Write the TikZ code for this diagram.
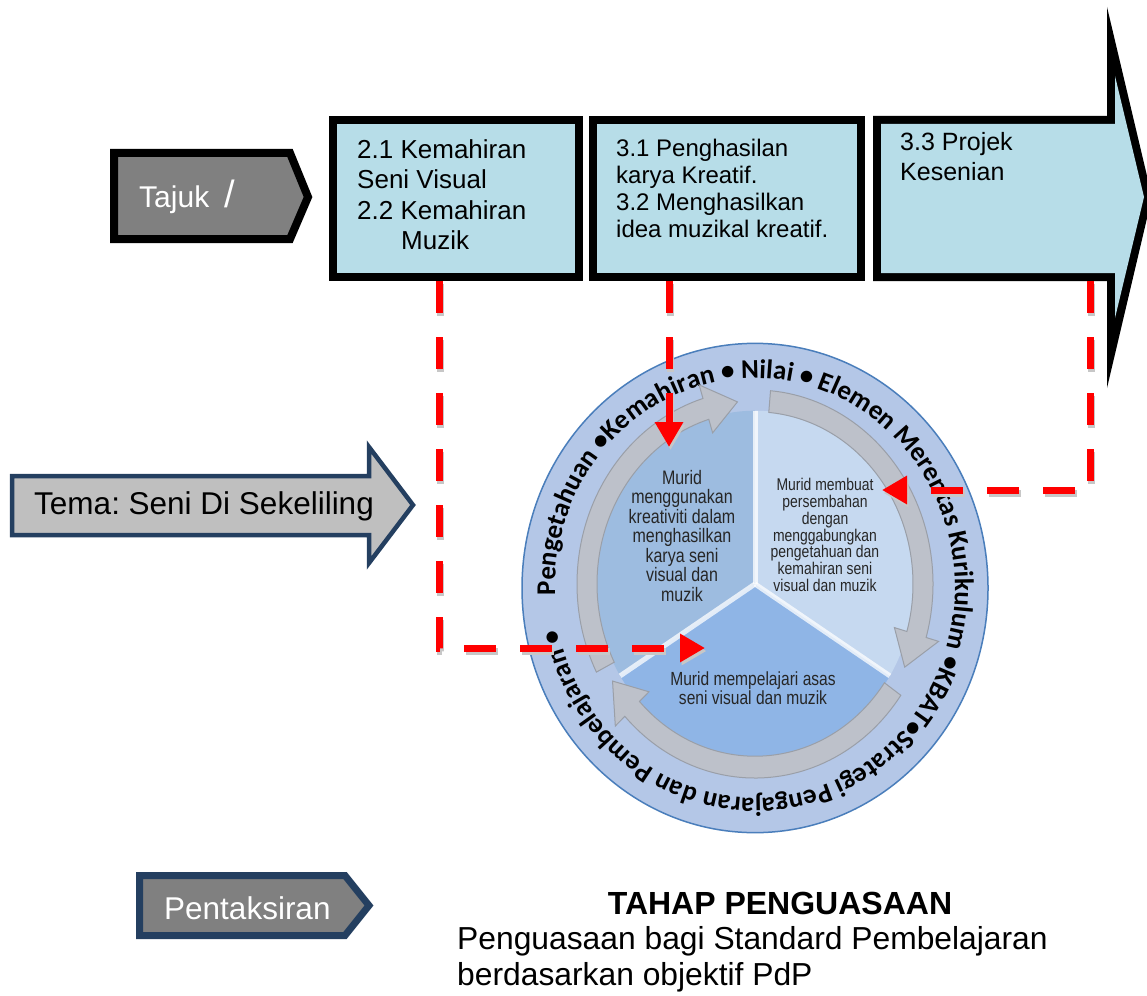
\documentclass[tikz,border=0pt]{standalone}
\usepackage{fontspec}
\setmainfont{Liberation Sans}
\newfontfamily\ringfont{Carlito}
\newfontfamily\narrowfont[FakeStretch=0.82]{Liberation Sans}
\usepackage{tikz}
\usetikzlibrary{positioning}
\usetikzlibrary{arrows.meta}
\usetikzlibrary{decorations.text}
\definecolor{boxblue}{HTML}{B7DDE8}
\definecolor{navy}{HTML}{243F60}
\definecolor{ringblue}{HTML}{B4C7E7}
\definecolor{ringedge}{HTML}{4A7EBB}
\definecolor{secleft}{HTML}{9DBCE0}
\definecolor{secright}{HTML}{C6D9F0}
\definecolor{secbottom}{HTML}{8FB5E6}
\definecolor{ringgray}{HTML}{BDC1CA}
\definecolor{ringgrayedge}{HTML}{9A9FA8}
\definecolor{darktext}{HTML}{262626}
\tikzset{
  topbox/.style={draw=black,line width=8pt,fill=boxblue,minimum height=157pt,inner sep=0pt},
  boxtext/.style={anchor=north west,align=left,inner sep=0pt},
  redconn/.style={draw=red,line width=7pt,dash pattern=on 32pt off 24pt,-{Triangle[length=25pt,width=27pt]}},
  conshadow/.style={draw=black!22,line width=7pt,dash pattern=on 32pt off 24pt,-{Triangle[length=25pt,width=27pt]},transform canvas={shift={(1.5pt,-3pt)}}},
  sectext/.style={align=center,text=darktext,inner sep=0pt},
  ringarrow/.style={fill=ringgray,draw=ringgrayedge,line width=1pt},
  sidelabel/.style={anchor=base west,inner sep=0pt}
}
\frenchspacing
\begin{document}
\begin{tikzpicture}[x=1pt,y=-1pt]
\useasboundingbox (0,0) rectangle (1147,995);

% lingkaran
\begin{scope}[shift={(755,588)},x=1pt,y=1.05pt]
\draw[fill=ringblue,draw=ringedge,line width=1.5pt] (0,0) circle[radius=233];
\path[decorate,decoration={text along path,
  text={|\ringfont\bfseries\fontsize{27}{27}\selectfont|Pengetahuan •Kemahiran • Nilai • Elemen Merentas Kurikulum •KBAT•Strategi Pengajaran dan Pembelajaran •}}]
  (182:200) arc[start angle=182,end angle=-174,radius=200];
\end{scope}
\begin{scope}[shift={(755,584)},x=1pt,y=1.09pt]
\fill[secleft] (0,0) -- (90:159) arc[start angle=90,end angle=212,radius=159] -- cycle;
\fill[secbottom] (0,0) -- (212:159) arc[start angle=212,end angle=328,radius=159] -- cycle;
\fill[secright] (0,0) -- (328:159) arc[start angle=328,end angle=450,radius=159] -- cycle;
\foreach \a in {90,212,328}
  \draw[white,line width=5pt,opacity=.75] (0,0) -- (\a:159);
\foreach \ta/\tb in {207/96,85/-27,-35/-148}{
  \pgfmathsetmacro\tc{\tb+11}
  \draw[ringarrow] (\ta:178) arc[start angle=\ta,end angle=\tc,radius=178]
    -- (\tc:191) -- (\tb:168) -- (\tc:145) -- (\tc:158)
    arc[start angle=\tc,end angle=\ta,radius=158] -- cycle;
}
\end{scope}

\node[sectext,font=\narrowfont\fontsize{19.5}{19.5}\selectfont] (kreatif) at (682,536)
  {Murid\\menggunakan\\kreativiti dalam\\menghasilkan\\karya seni\\visual dan\\muzik};
\node[sectext,font=\narrowfont\fontsize{17}{16.7}\selectfont] (persembahan) at (825,535)
  {Murid membuat\\persembahan\\dengan\\menggabungkan\\pengetahuan dan\\kemahiran seni\\visual dan muzik};
\node[sectext,font=\narrowfont\fontsize{19}{18.5}\selectfont] (asas) at (753,688)
  {Murid mempelajari asas\\seni visual dan muzik};

% kotak atas
\node[topbox,minimum width=246pt] (kemahiran) at (456,198.5) {};
\node[topbox,minimum width=268pt] (penghasilan) at (727,198.5) {};
\fill[black] (873,116) -- (1107,116) -- (1107,7) -- (1152,197) -- (1107,388) -- (1107,281) -- (873,281) -- cycle;
\fill[boxblue] (881,124) -- (1115,124) -- (1115,76) -- (1144,197) -- (1115,318) -- (1115,273) -- (881,273) -- cycle;

\node[boxtext,font=\fontsize{26}{30.5}\selectfont] (kemahirantext) at (357,139)
  {2.1 Kemahiran\\Seni Visual\\2.2 Kemahiran\\\hspace*{44pt}Muzik};
\node[boxtext,font=\fontsize{24}{27.3}\selectfont] (penghasilantext) at (616,138.5)
  {3.1 Penghasilan\\karya Kreatif.\\3.2 Menghasilkan\\idea muzikal kreatif.};
\node[boxtext,font=\fontsize{25}{30}\selectfont] (projektext) at (900,132)
  {3.3 Projek\\Kesenian};

% penyambung
\coordinate (k1) at (439,281);
\coordinate (k2) at (669,281);
\coordinate (k3) at (1090,281);
\coordinate (t1) at (705,648);
\coordinate (t2) at (669,447);
\coordinate (t3) at (882,490);
\foreach \s/\t in {k1/t1,k3/t3}{
  \draw[conshadow] (\s) |- (\t);
  \draw[redconn] (\s) |- (\t);
}
\draw[conshadow] (k2) -- (t2);
\draw[redconn] (k2) -- (t2);

% kiri
\draw[line width=8pt,fill=black!50] (114,153) -- (290,153) -- (308,197) -- (290,239) -- (114,239) -- cycle;
\node[sidelabel,text=white,font=\fontsize{30}{30}\selectfont] (tajuk) at (139,207)
  {Tajuk\hspace{15pt}{\fontsize{38}{38}\selectfont /}};
\draw[draw=navy,line width=4.5pt,fill=black!25] (12,476) -- (369,476) -- (369,447) -- (413,505)
  -- (369,563) -- (369,535) -- (12,535) -- cycle;
\node[sidelabel,font=\fontsize{31.5}{32}\selectfont] (tema) at (34,514) {Tema: Seni Di Sekeliling};
\draw[draw=navy,line width=7pt,fill=black!50] (139.5,875.5) -- (345,875.5) -- (369,905.5)
  -- (345,935.5) -- (139.5,935.5) -- cycle;
\node[sidelabel,text=white,font=\fontsize{31.5}{32}\selectfont] (pentaksiran) at (164,919) {Pentaksiran};

% bawah
\node[anchor=base,inner sep=0pt,font=\bfseries\fontsize{32}{32}\selectfont] (tahap) at (780,914) {TAHAP PENGUASAAN};
\node[sidelabel,font=\fontsize{31.8}{32}\selectfont] (standard) at (457,949) {Penguasaan bagi Standard Pembelajaran};
\node[sidelabel,font=\fontsize{31.8}{32}\selectfont] (objektif) at (457,985) {berdasarkan objektif PdP};
\end{tikzpicture}
\end{document}
